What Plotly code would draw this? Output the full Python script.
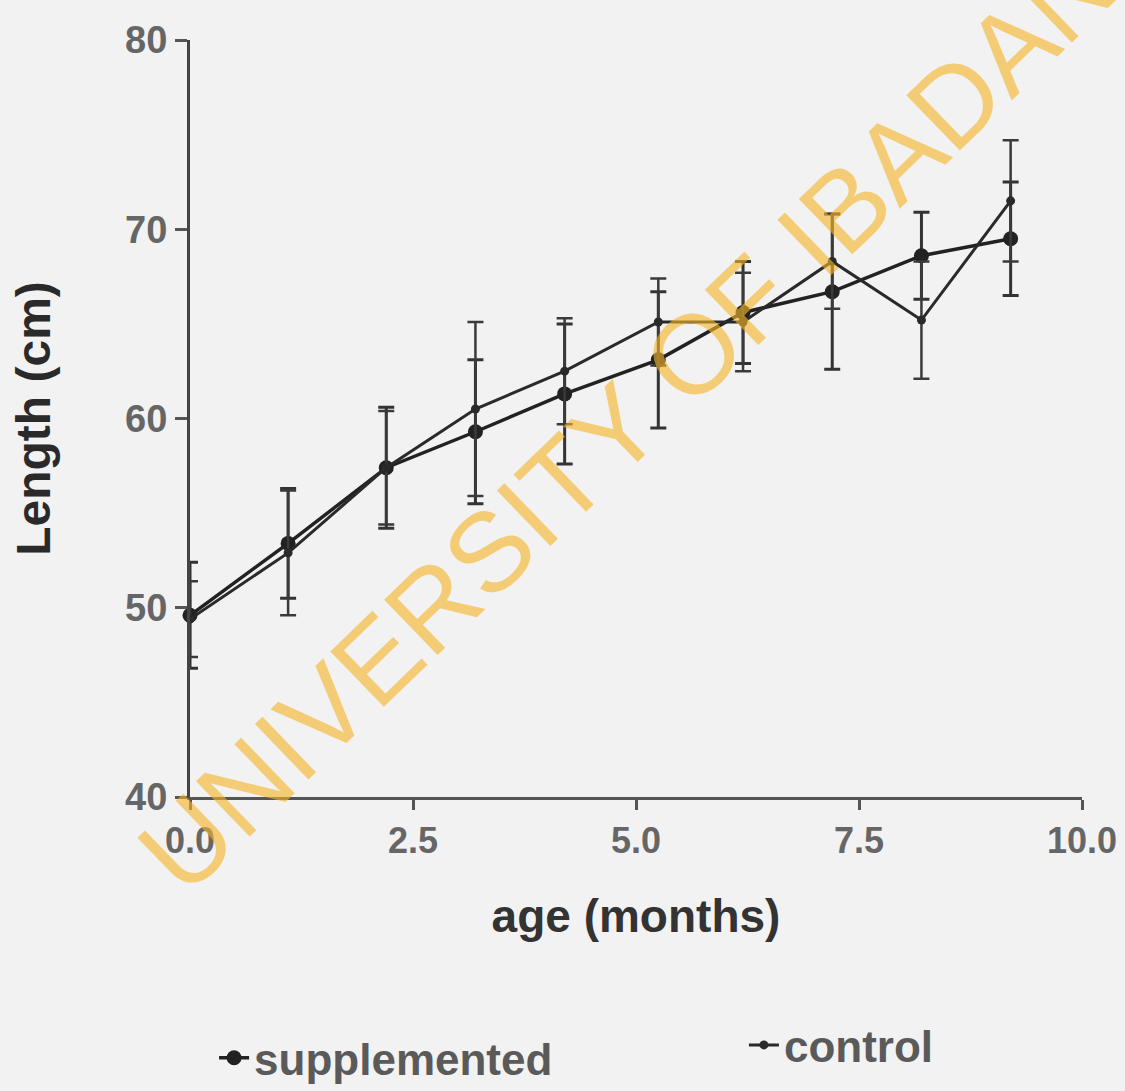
import plotly.graph_objects as go

# ---- data ----
age_months = [0, 1.1, 2.2, 3.2, 4.2, 5.25, 6.2, 7.2, 8.2, 9.2]

supplemented_len = [49.6, 53.4, 57.4, 59.3, 61.3, 63.1, 65.6, 66.7, 68.6, 69.5]
supplemented_err = [2.8, 2.9, 3.2, 3.8, 3.7, 3.6, 2.7, 4.1, 2.3, 3.0]

control_len = [49.4, 52.9, 57.4, 60.5, 62.5, 65.1, 65.1, 68.3, 65.2, 71.5]
control_err = [2.0, 3.3, 3.0, 4.6, 2.8, 2.3, 2.6, 2.5, 3.1, 3.2]

y_ticks = [40, 50, 60, 70, 80]
x_ticks = [0.0, 2.5, 5.0, 7.5, 10.0]
x_tick_labels = ["0.0", "2.5", "5.0", "7.5", "10.0"]

series_names = ["supplemented", "control"]
watermark = "UNIVERSITY OF IBADAN"

BG = "#f2f2f2"
INK = "#222222"
GRAY = "#5a5a5a"
FONT = "Liberation Sans, Arial, sans-serif"

fig = go.Figure()

fig.add_trace(go.Scatter(
    x=age_months, y=supplemented_len, name=series_names[0],
    mode="lines+markers",
    line=dict(color=INK, width=3.5),
    marker=dict(symbol="circle", size=15, color=INK),
    error_y=dict(type="data", array=supplemented_err, visible=True,
                 color="#333333", thickness=3, width=8),
    cliponaxis=False, legend="legend",
))

fig.add_trace(go.Scatter(
    x=age_months, y=control_len, name=series_names[1],
    mode="lines+markers",
    line=dict(color="#2a2a2a", width=3),
    marker=dict(symbol="circle", size=9, color="#2a2a2a"),
    error_y=dict(type="data", array=control_err, visible=True,
                 color="#3a3a3a", thickness=2.5, width=8),
    cliponaxis=False, legend="legend2",
))

legend_font = dict(family=FONT, size=44, color=GRAY, weight="bold")

fig.update_layout(
    width=1125, height=1091,
    margin=dict(l=190, r=43, t=40, b=294, autoexpand=False),
    paper_bgcolor=BG, plot_bgcolor=BG,
    font=dict(family=FONT, color=GRAY),
    showlegend=True,
    legend=dict(
        orientation="h", x=0.027, xanchor="left", y=-0.345, yanchor="middle",
        font=legend_font, bgcolor="rgba(0,0,0,0)", itemsizing="trace",
    ),
    legend2=dict(
        orientation="h", x=0.621, xanchor="left", y=-0.328, yanchor="middle",
        font=legend_font, bgcolor="rgba(0,0,0,0)", itemsizing="trace",
    ),
    xaxis=dict(
        range=[0, 10], tickvals=x_ticks, ticktext=x_tick_labels,
        showgrid=False, zeroline=False,
        showline=True, linecolor="#555555", linewidth=3,
        ticks="outside", ticklen=10, tickwidth=3, tickcolor="#555555",
        tickfont=dict(family=FONT, size=36, color="#666666", weight="bold"),
        title=dict(text="age (months)", standoff=40,
                   font=dict(family=FONT, size=46, color="#333333", weight="bold")),
    ),
    yaxis=dict(
        range=[40, 80], tickvals=y_ticks,
        showgrid=False, zeroline=False,
        showline=True, linecolor="#444444", linewidth=3,
        ticks="outside", ticklen=12, tickwidth=3, tickcolor="#555555",
        tickfont=dict(family=FONT, size=38, color="#666666", weight="bold"),
        title=dict(text="Length (cm)", standoff=60,
                   font=dict(family=FONT, size=48, color="#2a2a2a", weight="bold")),
    ),
)

fig.add_annotation(
    text=watermark, xref="paper", yref="paper",
    x=0.49, y=0.50, xanchor="center", yanchor="middle",
    textangle=-44, showarrow=False,
    font=dict(family=FONT, size=112, color="rgba(245,180,40,0.62)"),
)

fig.write_html("out.html")
